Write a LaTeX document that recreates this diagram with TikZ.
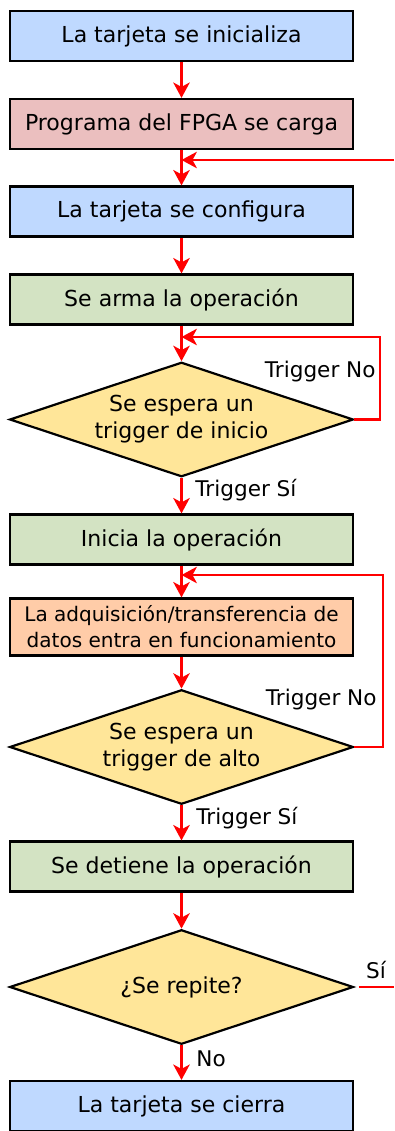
\documentclass[tikz,border=0pt]{standalone}
\usepackage{fontspec}
\setmainfont{DejaVu Sans}
\usetikzlibrary{shapes.geometric, arrows.meta}
\definecolor{boxblue}{HTML}{BFD9FF}
\definecolor{boxred}{HTML}{EBBFBF}
\definecolor{boxgreen}{HTML}{D3E3C3}
\definecolor{boxyellow}{HTML}{FFE699}
\definecolor{boxorange}{HTML}{FFCCA8}
\tikzset{
    step box/.style={rectangle, minimum width=156pt, minimum height=22.7pt, align=center, draw=black, line width=1pt, font=\fontsize{10}{12}\selectfont},
    board/.style={step box, fill=boxblue},
    fpga/.style={step box, fill=boxred},
    oper/.style={step box, fill=boxgreen},
    acq/.style={step box, fill=boxorange, font=\fontsize{9.1}{11.8}\selectfont},
    decision/.style={diamond, aspect=3, inner sep=1pt, minimum width=156pt, minimum height=52pt, align=center, draw=black, line width=1pt, fill=boxyellow, font=\fontsize{10}{12.3}\selectfont},
    lbl/.style={font=\fontsize{9.8}{12}\selectfont, inner sep=0pt},
    arrow/.style={draw=red, line width=1pt, -{Stealth[length=7pt, width=7.5pt, inset=2pt]}},
    line/.style={draw=red, line width=1pt}
}
\begin{document}
\begin{tikzpicture}[x=0.454pt, y=-0.454pt]
    \useasboundingbox (0,0) rectangle (394,1131);

    % Inicio
    \node[board] (init) at (181.5,36) {La tarjeta se inicializa};
    \node[fpga] (load) at (181.5,124) {Programa del FPGA se carga};
    \node[board] (conf) at (181.5,211.5) {La tarjeta se configura};
    \node[oper] (arm) at (181.5,299.5) {Se arma la operación};

    % Trigger de inicio
    \node[decision] (waitstart) at (181.5,419.5) {Se espera un\\trigger de inicio};
    \node[oper] (start) at (181.5,539.5) {Inicia la operación};
    \node[acq] (acquire) at (181.5,627) {La adquisición/transferencia de\\datos entra en funcionamiento};

    % Trigger de alto
    \node[decision] (waitstop) at (181.5,747) {Se espera un\\trigger de alto};
    \node[oper] (stop) at (181.5,866.5) {Se detiene la operación};
    \node[decision] (repeat) at (181.5,987) {¿Se repite?};
    \node[board] (close) at (181.5,1106) {La tarjeta se cierra};

    % Flechas
    \coordinate (back) at (394,160);
    \coordinate (loopA) at (380,337);
    \coordinate (loopB) at (383,575);
    \coordinate (again) at (394,987);

    \draw[arrow] (init) -- (load);
    \draw[arrow] (load) -- (conf);
    \draw[arrow] (back) -- (back -| load.south);
    \draw[arrow] (conf) -- (arm);
    \draw[arrow] (arm) -- (waitstart);
    \draw[arrow] (waitstart.east) -| (loopA) -- (loopA -| arm.south);
    \draw[arrow] (waitstart) -- (start);
    \draw[arrow] (start) -- (acquire);
    \draw[arrow] (acquire) -- (waitstop);
    \draw[arrow] (waitstop.east) -| (loopB) -- (loopB -| start.south);
    \draw[arrow] (waitstop) -- (stop);
    \draw[arrow] (stop) -- (repeat);
    \draw[arrow] (repeat) -- (close);
    \draw[line] ([xshift=2pt]repeat.east) -- (again);

    % Etiquetas
    \node[lbl, anchor=east] (noA) at (376,372) {Trigger No};
    \node[lbl, anchor=west] (yesA) at (195,490) {Trigger Sí};
    \node[lbl, anchor=east] (noB) at (377,700) {Trigger No};
    \node[lbl, anchor=west] (yesB) at (196,818) {Trigger Sí};
    \node[lbl, anchor=west] (noC) at (196,1059) {No};
    \node[lbl] (yesC) at (376,970) {Sí};
\end{tikzpicture}
\end{document}
